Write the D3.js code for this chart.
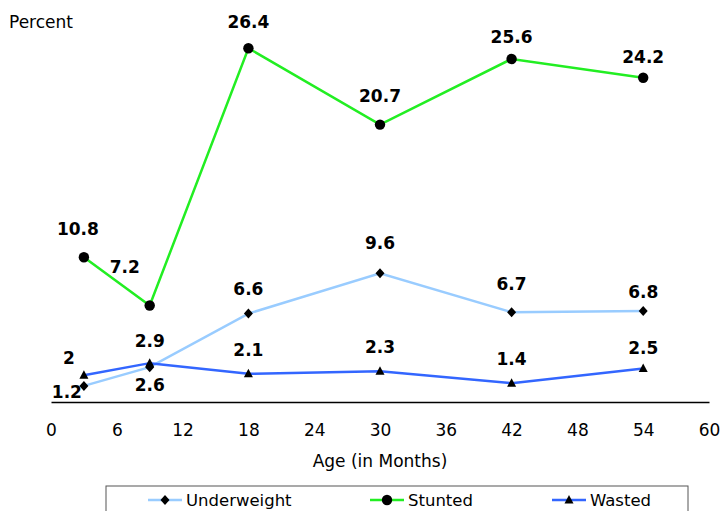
<!DOCTYPE html>
<html><head><meta charset="utf-8">
<script src="https://cdn.jsdelivr.net/npm/d3@7"></script>
<style>body{margin:0;background:#fff}</style>
</head><body>
<script>
const ages = [3, 9, 18, 30, 42, 54];
const underweight = [1.2, 2.6, 6.6, 9.6, 6.7, 6.8];
const stunted = [10.8, 7.2, 26.4, 20.7, 25.6, 24.2];
const wasted = [2, 2.9, 2.1, 2.3, 1.4, 2.5];
const xTicks = [0, 6, 12, 18, 24, 30, 36, 42, 48, 54, 60];
const seriesNames = ["Underweight", "Stunted", "Wasted"];

const W = 720, H = 511;
const font = "Tahoma, 'DejaVu Sans', Verdana, sans-serif";
const svg = d3.select("body").append("svg").attr("width", W).attr("height", H);

const x = d3.scaleLinear().domain([0, 60]).range([51, 709]);
const y = d3.scaleLinear().domain([0, 30]).range([402, 0]);

// axis
const ax = svg.append("g").attr("transform", `translate(0,${y(0)})`)
  .call(d3.axisBottom(x).tickValues(xTicks).tickSize(0).tickPadding(22));
ax.select(".domain").attr("stroke", "#000").attr("stroke-width", 1.3);
ax.selectAll("text").attr("font-family", font).attr("font-size", 17).attr("fill", "#000");

svg.append("text").attr("x", x(30)).attr("y", 467).attr("text-anchor", "middle")
  .attr("font-family", font).attr("font-size", 17).text("Age (in Months)");
svg.append("text").attr("x", 9).attr("y", 28)
  .attr("font-family", font).attr("font-size", 17).text("Percent");

const series = [
  {name: seriesNames[0], values: underweight, color: "#99ccff", marker: "diamond",
   offs: [[-17, 6], [0, 18], [0, -25], [0, -30], [0, -28], [0, -19]]},
  {name: seriesNames[1], values: stunted, color: "#22ee22", marker: "circle",
   offs: [[-6, -28], [-25, -39], [0, -26], [0, -29], [0, -22], [0, -21]]},
  {name: seriesNames[2], values: wasted, color: "#3366ff", marker: "triangle",
   offs: [[-15, -17], [0, -22], [0, -24], [0, -24], [0, -24], [0, -21]]}
];

const line = d3.line().x((d, i) => x(ages[i])).y(d => y(d));
const sym = {
  diamond: "M0,-5L4.5,0L0,5L-4.5,0Z",
  circle: d3.symbol().type(d3.symbolCircle).size(85)(),
  triangle: "M0,-5L4.5,3.5L-4.5,3.5Z"
};

series.forEach(s => {
  svg.append("path").datum(s.values).attr("d", line)
    .attr("fill", "none").attr("stroke", s.color).attr("stroke-width", 2.5);
});
series.forEach(s => {
  svg.selectAll(null).data(s.values).enter().append("path")
    .attr("d", sym[s.marker]).attr("fill", "#000")
    .attr("transform", (d, i) => `translate(${x(ages[i])},${y(d)})`);
});
series.forEach(s => {
  svg.selectAll(null).data(s.values).enter().append("text")
    .attr("x", (d, i) => x(ages[i]) + s.offs[i][0])
    .attr("y", (d, i) => y(d) + s.offs[i][1] + 6)
    .attr("text-anchor", "middle").attr("font-family", font)
    .attr("font-size", 17).attr("font-weight", "bold").text(d => d);
});

// legend
svg.append("rect").attr("x", 106).attr("y", 486).attr("width", 582).attr("height", 40)
  .attr("fill", "#fff").attr("stroke", "#555").attr("stroke-width", 1);
const lx = [148, 370, 552];
series.forEach((s, i) => {
  const g = svg.append("g").attr("transform", `translate(${lx[i]},500)`);
  g.append("line").attr("x1", 0).attr("x2", 34).attr("stroke", s.color).attr("stroke-width", 2.5);
  g.append("path").attr("d", sym[s.marker]).attr("transform", "translate(17,0)").attr("fill", "#000");
  g.append("text").attr("x", 38).attr("y", 6).attr("font-family", font).attr("font-size", 16.5).text(s.name);
});
</script>
</body></html>
